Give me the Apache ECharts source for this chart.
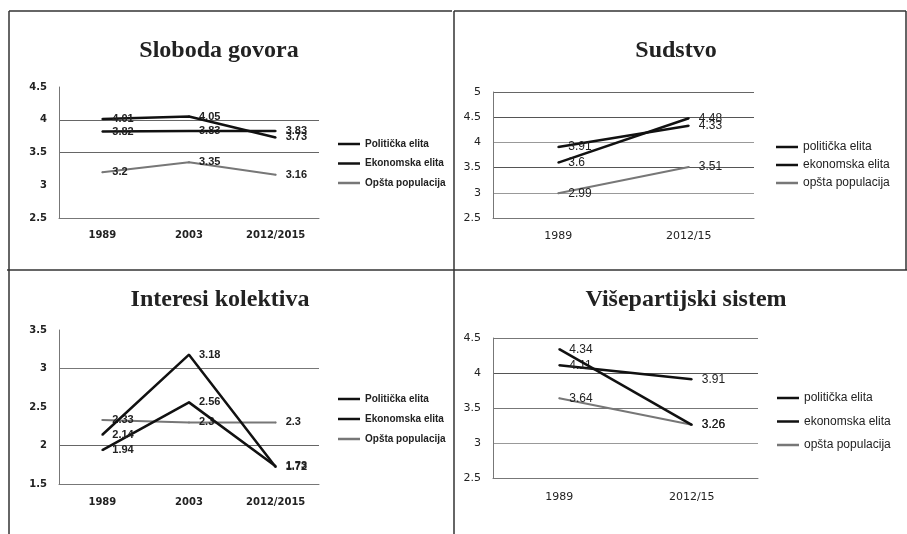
<!DOCTYPE html>
<html><head><meta charset="utf-8">
<script src="https://cdn.jsdelivr.net/npm/echarts@6/dist/echarts.min.js"></script>
<style>html,body{margin:0;padding:0;background:#fff}#c{width:907px;height:534px}</style>
</head><body><div id="c"></div>
<script>
// ---- data ----
const titles = ['Sloboda govora', 'Sudstvo', 'Interesi kolektiva', 'Višepartijski sistem'];
const cats3 = ['1989', '2003', '2012/2015'];
const cats2 = ['1989', '2012/15'];
const namesA = ['Politička elita', 'Ekonomska elita', 'Opšta populacija'];
const namesB = ['politička elita', 'ekonomska elita', 'opšta populacija'];

const p1Politicka = [4.01, 4.05, 3.73];
const p1Ekonomska = [3.82, 3.83, 3.83];
const p1Opsta = [3.2, 3.35, 3.16];

const p2Politicka = [3.91, 4.33];
const p2Ekonomska = [3.6, 4.48];
const p2Opsta = [2.99, 3.51];

const p3Politicka = [2.14, 3.18, 1.72];
const p3Ekonomska = [1.94, 2.56, 1.73];
const p3Opsta = [2.33, 2.3, 2.3];

const p4Politicka = [4.34, 3.26];
const p4Ekonomska = [4.11, 3.91];
const p4Opsta = [3.64, 3.26];

const yRange1 = [2.5, 4.5, 0.5];
const yRange2 = [2.5, 5, 0.5];
const yRange3 = [1.5, 3.5, 0.5];
const yRange4 = [2.5, 4.5, 0.5];

// ---- layout / style ----
const T = 'rgba(0,0,0,0)';
const panels = [
  { cats: cats3, names: namesA, data: [p1Politicka, p1Ekonomska, p1Opsta], y: yRange1,
    grid: { left: 59, top: 87, width: 260, height: 131 }, bold: true,
    split: [T, T, '#666', '#666', T], xMargin: 12,
    title: [219, 51], legend: { left: 338, top: 137, itemGap: 5.5 } },
  { cats: cats2, names: namesB, data: [p2Politicka, p2Ekonomska, p2Opsta], y: yRange2,
    grid: { left: 493, top: 92, width: 261, height: 126 }, bold: false,
    split: [T, '#999', '#555', '#999', '#555', '#666'], xMargin: 13,
    title: [676, 51], legend: { left: 776, top: 140, itemGap: 4 } },
  { cats: cats3, names: namesA, data: [p3Politicka, p3Ekonomska, p3Opsta], y: yRange3,
    grid: { left: 59, top: 330, width: 260, height: 154 }, bold: true,
    split: [T, '#666', T, '#777', T], xMargin: 13,
    title: [220, 300], legend: { left: 338, top: 392, itemGap: 6 } },
  { cats: cats2, names: namesB, data: [p4Politicka, p4Ekonomska, p4Opsta], y: yRange4,
    grid: { left: 493, top: 338, width: 265, height: 140 }, bold: false,
    split: [T, '#999', '#777', '#555', '#777'], xMargin: 14,
    title: [686, 300], legend: { left: 777, top: 391, itemGap: 9.5 } }
];
const lineColors = ['#111', '#111', '#777'];
const lineWidths = [2.5, 2.5, 2];

const grid = [], xAxis = [], yAxis = [], series = [], legend = [], graphic = [];
panels.forEach((p, i) => {
  grid.push(Object.assign({ containLabel: false }, p.grid));
  const axFont = p.bold
    ? { fontFamily: 'DejaVu Sans', fontWeight: 'bold', fontSize: 10, color: '#222' }
    : { fontFamily: 'DejaVu Sans', fontWeight: 'normal', fontSize: 11, color: '#222' };
  xAxis.push({
    type: 'category', gridIndex: i, data: p.cats, boundaryGap: true,
    axisLine: { show: true, lineStyle: { color: '#777', width: 1 } },
    axisTick: { show: false },
    axisLabel: Object.assign({ margin: p.xMargin }, axFont),
    splitLine: { show: false }
  });
  yAxis.push({
    type: 'value', gridIndex: i, min: p.y[0], max: p.y[1], interval: p.y[2],
    axisLine: { show: true, lineStyle: { color: '#777', width: 1 } },
    axisTick: { show: false },
    axisLabel: Object.assign({ margin: 12 }, axFont),
    splitLine: { show: true, lineStyle: { color: p.split, width: 1 } }
  });
  p.data.forEach((d, k) => {
    series.push({
      type: 'line', name: p.names[k], xAxisIndex: i, yAxisIndex: i, data: d,
      symbol: 'circle', symbolSize: 2, showSymbol: true,
      color: lineColors[k],
      itemStyle: { color: lineColors[k] },
      lineStyle: { color: lineColors[k], width: lineWidths[k] },
      label: {
        show: true, position: 'right', distance: 9,
        fontFamily: 'Liberation Sans', fontSize: p.bold ? 11 : 12,
        fontWeight: p.bold ? 'bold' : 'normal', color: '#222'
      },
      emphasis: { disabled: true },
      animation: false, z: 3 + (2 - k)
    });
  });
  legend.push({
    orient: 'vertical', left: p.legend.left, top: p.legend.top, padding: 0,
    itemGap: p.legend.itemGap, itemWidth: 22, itemHeight: 2.5, icon: 'rect',
    data: p.names.map((n, k) => ({ name: n, itemStyle: { color: lineColors[k] } })),
    textStyle: p.bold
      ? { fontFamily: 'Liberation Sans', fontWeight: 'bold', fontSize: 10, color: '#222', lineHeight: 14 }
      : { fontFamily: 'Liberation Sans', fontWeight: 'normal', fontSize: 12, color: '#222', lineHeight: 14 },
    selectedMode: false
  });
  graphic.push({
    type: 'text', x: p.title[0], y: p.title[1],
    style: { text: titles[i], font: 'bold 24px "Liberation Serif"', fill: '#222',
             textAlign: 'center', textVerticalAlign: 'middle' }
  });
});

// panel frame lines
const frameColor = '#333';
[[9, 11, 452, 11], [454, 11, 906, 11], [9, 11, 9, 534], [454, 11, 454, 534],
 [906, 11, 906, 270], [7, 270, 907, 270]].forEach(c => {
  graphic.push({ type: 'line', shape: { x1: c[0], y1: c[1], x2: c[2], y2: c[3] },
    style: { stroke: frameColor, lineWidth: 1.5 }, silent: true });
});

const chart = echarts.init(document.getElementById('c'), null, { renderer: 'canvas' });
chart.setOption({
  animation: false, backgroundColor: '#fff',
  grid, xAxis, yAxis, series, legend, graphic
});
</script>
</body></html>
